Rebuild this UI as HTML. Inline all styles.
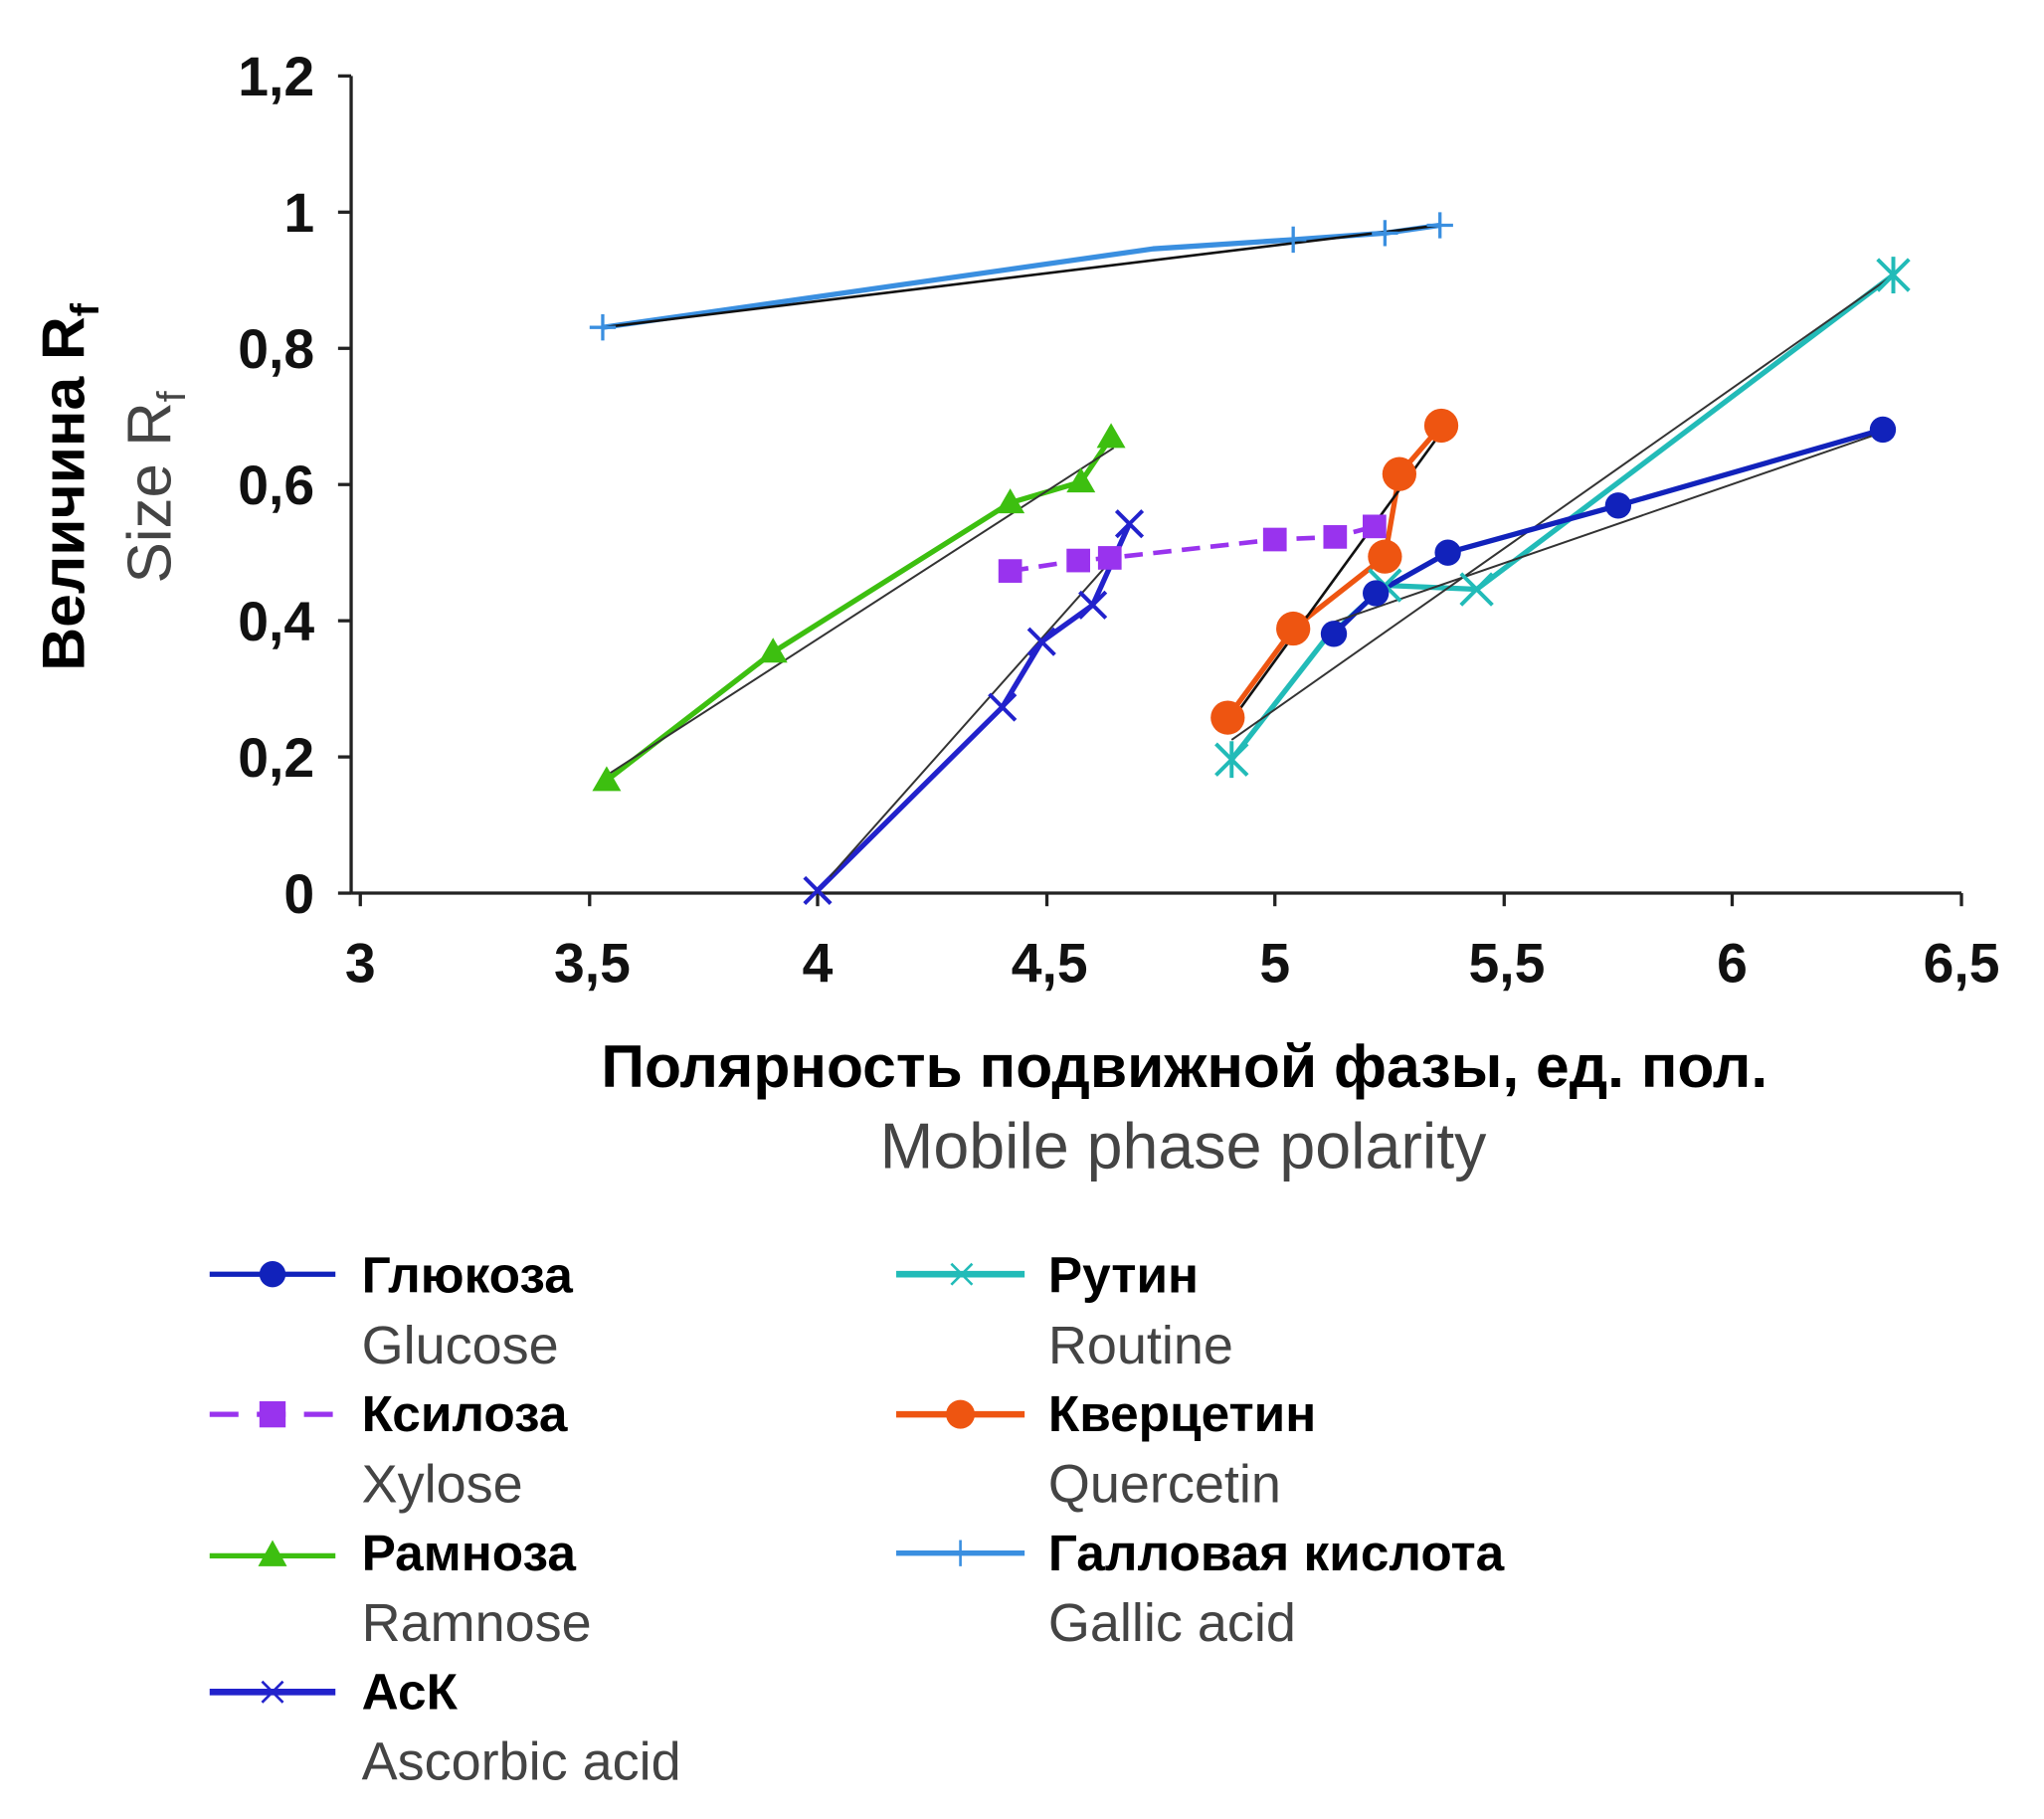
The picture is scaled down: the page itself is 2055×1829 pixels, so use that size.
<!DOCTYPE html>
<html><head><meta charset="utf-8"><style>
html,body{margin:0;padding:0;background:#fff}
svg{display:block}
text{font-family:"Liberation Sans","DejaVu Sans",sans-serif}
.t{font-size:42px;font-weight:bold;fill:#111}
.b{font-size:39px;font-weight:bold;fill:#000}
.g{font-size:41px;fill:#444}
</style></head><body>
<svg width="2055" height="1829" viewBox="0 0 1560 1389" preserveAspectRatio="none" xmlns="http://www.w3.org/2000/svg">
<g stroke="#222" stroke-width="2.5" fill="none">
<line x1="268" y1="58" x2="268" y2="682"/>
<line x1="268" y1="682" x2="1497" y2="682"/>
<line x1="258" y1="58" x2="268" y2="58"/><line x1="258" y1="162" x2="268" y2="162"/><line x1="258" y1="266" x2="268" y2="266"/><line x1="258" y1="370" x2="268" y2="370"/><line x1="258" y1="474" x2="268" y2="474"/><line x1="258" y1="578" x2="268" y2="578"/><line x1="258" y1="682" x2="268" y2="682"/>
<line x1="275" y1="682" x2="275" y2="692"/><line x1="450" y1="682" x2="450" y2="692"/><line x1="624" y1="682" x2="624" y2="692"/><line x1="799" y1="682" x2="799" y2="692"/><line x1="973" y1="682" x2="973" y2="692"/><line x1="1148" y1="682" x2="1148" y2="692"/><line x1="1322" y1="682" x2="1322" y2="692"/><line x1="1497" y1="682" x2="1497" y2="692"/>
</g>
<g class="t" text-anchor="end">
<text x="240" y="73">1,2</text><text x="240" y="177">1</text><text x="240" y="281">0,8</text><text x="240" y="385">0,6</text><text x="240" y="489">0,4</text><text x="240" y="593">0,2</text><text x="240" y="697">0</text>
</g>
<g class="t" text-anchor="middle">
<text x="275" y="750">3</text><text x="452" y="750">3,5</text><text x="624" y="750">4</text><text x="801" y="750">4,5</text><text x="973" y="750">5</text><text x="1150" y="750">5,5</text><text x="1322" y="750">6</text><text x="1497" y="750">6,5</text>
</g>
<text x="904" y="830" text-anchor="middle" style="font-size:46px;font-weight:bold">Полярность подвижной фазы, ед. пол.</text>
<text x="903" y="892" text-anchor="middle" style="font-size:49px;fill:#444">Mobile phase polarity</text>
<text transform="translate(64,372) rotate(-90)" text-anchor="middle" style="font-size:46px;font-weight:bold">Величина R<tspan style="font-size:30px" dy="11">f</tspan></text>
<text transform="translate(130,372) rotate(-90)" text-anchor="middle" style="font-size:47px;fill:#444">Size R<tspan style="font-size:30px" dy="11">f</tspan></text>

<g fill="none" stroke-linejoin="round">
<polyline points="460,250 880,190 987,183 1057,178 1099,172" stroke="#3a8fe0" stroke-width="4"/>
<line x1="460" y1="250" x2="1099" y2="172" stroke="#111" stroke-width="2"/>
<polyline points="463,596 590,498 771,384 825,368 848,334" stroke="#3dbf10" stroke-width="4"/>
<line x1="463" y1="592" x2="850" y2="342" stroke="#333" stroke-width="1.5"/>
<polyline points="771,436 823,428 847,426 973,412 1019,410 1049,402" stroke="#9933ee" stroke-width="3.5" stroke-dasharray="14,8"/>
<polyline points="624,680 765,540 795,490 834,462 862,400" stroke="#2222cc" stroke-width="4"/>
<line x1="624" y1="680" x2="855" y2="420" stroke="#333" stroke-width="1.5"/>
<polyline points="940,580 1010,490 1057,447 1127,450 1445,210" stroke="#22bbb8" stroke-width="4"/>
<line x1="940" y1="565" x2="1445" y2="210" stroke="#333" stroke-width="1.5"/>
<polyline points="1018,484 1050,453 1105,422 1235,386 1437,328" stroke="#1122bb" stroke-width="4"/>
<line x1="1018" y1="475" x2="1437" y2="330" stroke="#333" stroke-width="1.5"/>
<polyline points="937,548 987,480 1057,425 1068,362 1100,325" stroke="#ee5511" stroke-width="4"/>
<line x1="940" y1="550" x2="1100" y2="330" stroke="#111" stroke-width="2"/>
</g>
<g stroke="#3a8fe0" stroke-width="2.5"><path d="M450 250h20M460 240v20M977 183h20M987 173v20M1047 178h20M1057 168v20M1089 172h20M1099 162v20"/></g>
<g fill="#3dbf10"><polygon points="463,585 452,604 474,604"/><polygon points="590,487 579,506 601,506"/><polygon points="771,373 760,392 782,392"/><polygon points="825,357 814,376 836,376"/><polygon points="848,323 837,342 859,342"/></g>
<g fill="#9933ee"><rect x="762" y="427" width="18" height="18"/><rect x="814" y="419" width="18" height="18"/><rect x="838" y="417" width="18" height="18"/><rect x="964" y="403" width="18" height="18"/><rect x="1010" y="401" width="18" height="18"/><rect x="1040" y="393" width="18" height="18"/></g>
<g stroke="#2222cc" stroke-width="3"><path d="M614 670l20 20M634 670l-20 20M755 530l20 20M775 530l-20 20M785 480l20 20M805 480l-20 20M824 452l20 20M844 452l-20 20M852 390l20 20M872 390l-20 20"/></g>
<g stroke="#22bbb8" stroke-width="3"><path d="M928 568l24 24M952 568l-24 24M940 566v28M1045 435l24 24M1069 435l-24 24M1115 438l24 24M1139 438l-24 24M1433 198l24 24M1457 198l-24 24M1445 196v28"/></g>
<g fill="#1122bb"><circle cx="1018" cy="484" r="10"/><circle cx="1050" cy="453" r="10"/><circle cx="1105" cy="422" r="10"/><circle cx="1235" cy="386" r="10"/><circle cx="1437" cy="328" r="10"/></g>
<g fill="#ee5511"><circle cx="937" cy="548" r="13"/><circle cx="987" cy="480" r="13"/><circle cx="1057" cy="425" r="13"/><circle cx="1068" cy="362" r="13"/><circle cx="1100" cy="325" r="13"/></g>

<line x1="160" y1="973" x2="256" y2="973" stroke="#1122bb" stroke-width="4"/><circle cx="208" cy="973" r="10" fill="#1122bb"/>
<text class="b" x="276" y="987">Глюкоза</text><text class="g" x="276" y="1041">Glucose</text>
<line x1="160" y1="1080" x2="256" y2="1080" stroke="#9933ee" stroke-width="4" stroke-dasharray="22,14"/><rect x="198" y="1070" width="20" height="20" fill="#9933ee"/>
<text class="b" x="276" y="1093">Ксилоза</text><text class="g" x="276" y="1147">Xylose</text>
<line x1="160" y1="1188" x2="256" y2="1188" stroke="#3dbf10" stroke-width="4"/><polygon points="208,1176 197,1196 219,1196" fill="#3dbf10"/>
<text class="b" x="276" y="1199">Рамноза</text><text class="g" x="276" y="1253">Ramnose</text>
<line x1="160" y1="1292" x2="256" y2="1292" stroke="#2222cc" stroke-width="5"/><path d="M200 1284l16 16M216 1284l-16 16" stroke="#2222cc" stroke-width="2"/>
<text class="b" x="276" y="1305">АсК</text><text class="g" x="276" y="1359">Ascorbic acid</text>
<line x1="684" y1="973" x2="782" y2="973" stroke="#22bbb8" stroke-width="5"/><path d="M726 965l16 16M742 965l-16 16" stroke="#22bbb8" stroke-width="2"/>
<text class="b" x="800" y="987">Рутин</text><text class="g" x="800" y="1041">Routine</text>
<line x1="684" y1="1080" x2="782" y2="1080" stroke="#ee5511" stroke-width="5"/><circle cx="733" cy="1080" r="11" fill="#ee5511"/>
<text class="b" x="800" y="1093">Кверцетин</text><text class="g" x="800" y="1147">Quercetin</text>
<line x1="684" y1="1186" x2="782" y2="1186" stroke="#3a8fe0" stroke-width="4"/><path d="M733 1176v20" stroke="#3a8fe0" stroke-width="2"/>
<text class="b" x="800" y="1199">Галловая кислота</text><text class="g" x="800" y="1253">Gallic acid</text>
</svg>
</body></html>
